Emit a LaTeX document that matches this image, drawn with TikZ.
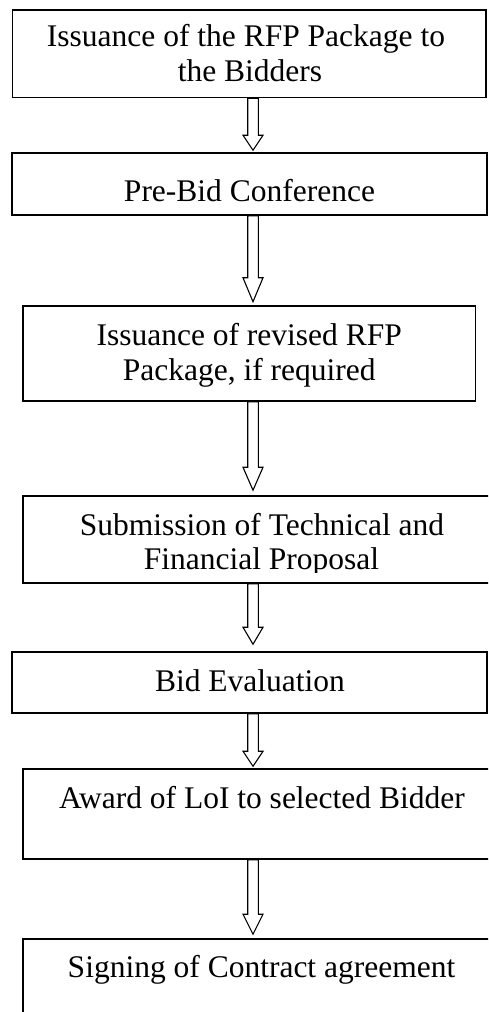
\documentclass[tikz,border=0pt]{standalone}
\usepackage{fontspec}
\setmainfont{Liberation Serif}
\usetikzlibrary{positioning}
\usetikzlibrary{calc}

% hollow block arrow: from node, to node, gap above target, head length
\newcommand{\flowarrow}[4]{%
	\path (#1.south -| ax) coordinate (s) (#2.north -| ax) ++(0,-#3) coordinate (t);
	\draw[blockarrow] ($(s)+(-5.3,0)$) -- ($(t)+(-5.3,-#4)$) -- ($(t)+(-10,-#4)$) -- (t)
		-- ($(t)+(10,-#4)$) -- ($(t)+(5.3,-#4)$) -- ($(s)+(5.3,0)$) -- cycle;}

\begin{document}
\begin{tikzpicture}[x=1pt,y=-1pt]
			\tikzstyle{stepbox}=[rectangle, draw=black, line width=1.5pt, inner sep=0pt]
			\tikzstyle{steptext}=[anchor=base, inner sep=0pt, font=\fontsize{31.5}{35}\selectfont]
			\tikzstyle{blockarrow}=[draw=black, fill=white, line width=1.1pt, line join=miter]
			
			\clip (0,0) rectangle (488,1012);
			\coordinate (ax) at (253,0);
			
			\draw node at (249.2, 53.7) [stepbox, minimum width=473.7pt, minimum height=87.5pt] (b1) {};
			\draw node at (246, 46.7) [steptext] (t1a) {Issuance of the RFP Package to};
			\draw node at (250, 81.7) [steptext] (t1b) {the Bidders};
			
			\draw node at (249.5, 184) [stepbox, minimum width=475pt, minimum height=62pt] (b2) {};
			\draw node at (249.5, 201) [steptext] (t2) {Pre-Bid Conference};
			
			\draw node at (249.2, 353.5) [stepbox, minimum width=452.5pt, minimum height=95pt] (b3) {};
			\draw node at (249.2, 345.5) [steptext] (t3a) {Issuance of revised RFP};
			\draw node at (249.2, 380.7) [steptext] (t3b) {Package, if required};
			
			\draw node at (261.5, 539.5) [stepbox, minimum width=477pt, minimum height=87pt] (b4) {};
			\draw node at (262, 535) [steptext] (t4a) {Submission of Technical and};
			\begin{scope}
				\clip (23,490) rectangle (500,572);
				\draw node at (261.5, 569.5) [steptext] (t4b) {Financial Proposal};
			\end{scope}
			
			\draw node at (249.5, 682.5) [stepbox, minimum width=475pt, minimum height=61pt] (b5) {};
			\draw node at (250, 691.7) [steptext] (t5) {Bid Evaluation};
			
			\draw node at (261.5, 814) [stepbox, minimum width=477pt, minimum height=90pt] (b6) {};
			\draw node at (262, 808) [steptext] (t6) {Award of LoI to selected Bidder};
			
			\draw node at (261.5, 984.5) [stepbox, minimum width=477pt, minimum height=91pt] (b7) {};
			\draw node at (261.5, 977) [steptext] (t7) {Signing of Contract agreement};
			
			\flowarrow{b1}{b2}{2}{15}
			\flowarrow{b2}{b3}{3.5}{24}
			\flowarrow{b3}{b4}{5}{23}
			\flowarrow{b4}{b5}{7}{17}
			\flowarrow{b5}{b6}{2}{15}
			\flowarrow{b6}{b7}{4}{20}
\end{tikzpicture}
\end{document}
